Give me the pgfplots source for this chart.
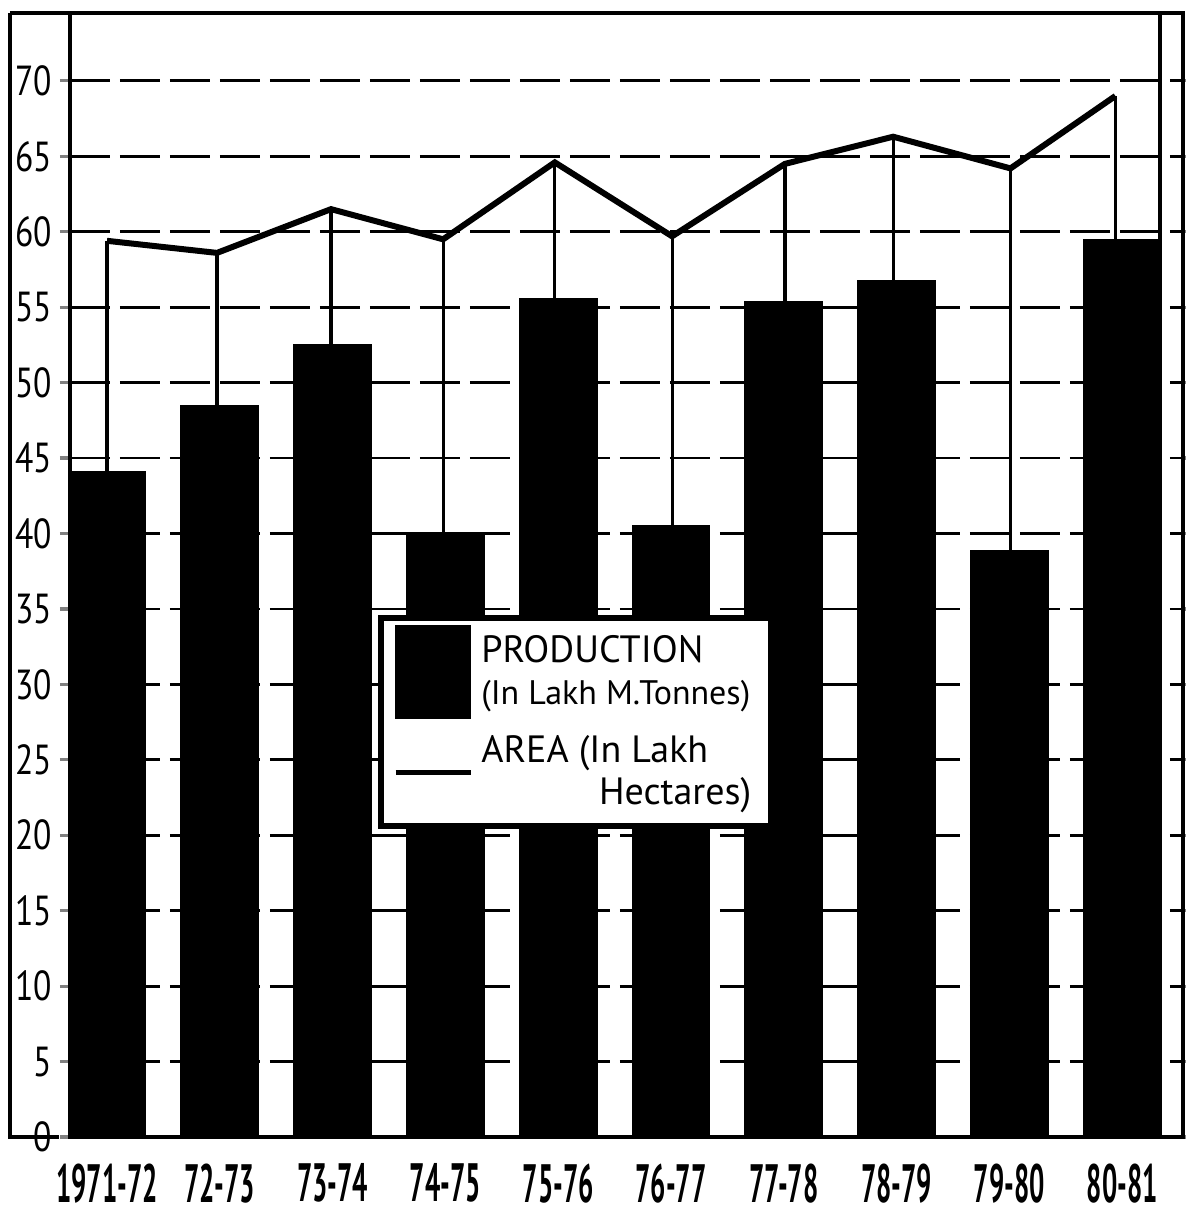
\documentclass[border=0pt]{standalone}
\usepackage{fontspec}
\setmainfont{PT Sans}
\usepackage{pgfplots}
\pgfplotsset{compat=1.18}
\usepackage{pgfplotstable}
\usepackage{graphicx}

\pgfplotstableread{
x prod xa area drop
0 44.1 0.000 59.4 15.3
1 48.5 0.975 58.6 10.1
2 52.5 1.986 61.5 9.0
3 40.1 2.980 59.5 19.4
4 55.6 3.970 64.6 9.0
5 40.5 5.010 59.7 19.2
6 55.4 6.010 64.5 9.1
7 56.8 6.970 66.3 9.5
8 38.9 8.010 64.2 25.3
9 59.5 8.940 69.0 9.5
}\data

\newcommand{\xl}[1]{\scalebox{0.5}[1]{\bfseries #1}}

\begin{document}
\begin{tikzpicture}
\begin{axis}[
  scale only axis,
  clip=false,
  width=278.25pt, height=281pt,
  xmin=-0.328, xmax=9.539,
  ymin=0, ymax=74.5,
  axis line style={line width=0.9pt},
  xtick={0,...,9},
  xticklabels={\xl{1971-72},\xl{72-73},\xl{73-74},\xl{74-75},\xl{75-76},\xl{76-77},\xl{77-78},\xl{78-79},\xl{79-80},\xl{80-81}},
  xtick style={draw=none},
  xticklabel style={font=\fontsize{13.5}{13.5}\selectfont, inner sep=0pt, yshift=-4pt},
  ytick={0,5,...,70},
  tick align=outside,
  major tick length=2.5pt,
  ytick style={line width=0.8pt},
  yticklabel={\scalebox{0.8}[1]{\pgfmathprintnumber{\tick}}},
  yticklabel style={font=\fontsize{10.5}{10.5}\selectfont, xshift=1.5pt},
  /pgf/number format/assume math mode=true,
  ymajorgrids,
  grid style={line width=0.7pt, black, dash pattern=on 10pt off 2.5pt},
  legend style={at={(axis cs:2.4,34.6)}, anchor=north west, draw=black,
    line width=1.5pt, fill=white, inner xsep=3pt, inner ysep=2pt,
    row sep=2pt, font=\fontsize{9.5}{10.5}\selectfont,
    cells={align=left}},
  legend cell align=left,
]
\addplot[ybar, bar width=0.69, fill=black, draw=black, line width=0pt,
  legend image code/.code={\fill[black] (0pt,-11.5pt) rectangle (18.75pt,11.75pt);}]
  table[x=x, y=prod] {\data};
\addlegendentry{PRODUCTION\\{\fontsize{8.5}{10}\selectfont(In Lakh M.Tonnes)}}
\addplot[black, line width=1.5pt, mark=none,
  error bars/.cd, y dir=minus, y explicit, error mark=none,
  error bar style={line width=0.8pt, black},
  /pgfplots/legend image code/.code={\draw[line width=1.4pt, black] (0pt,0pt) -- (18.75pt,0pt);}]
  table[x=xa, y=area, y error=drop] {\data};
\addlegendentry{AREA (In Lakh\\\hspace*{3.1em}Hectares)}
\draw[line width=0.9pt] (axis cs:9.337,0) -- (axis cs:9.337,74.5);
\draw[line width=0.9pt] ([xshift=-15pt]rel axis cs:0,1) -- (rel axis cs:0,1);
\draw[line width=0.9pt] ([xshift=-15pt]rel axis cs:0,1) -- ([xshift=-15pt]rel axis cs:0,0) -- ++(3pt,0);
\coordinate (sw) at (rel axis cs:0,0);
\coordinate (ne) at (rel axis cs:1,1);
\end{axis}
\pgfresetboundingbox
\path ([xshift=-17.5pt,yshift=-19.5pt]sw) rectangle ([xshift=0.6pt,yshift=3.25pt]ne);
\end{tikzpicture}
\end{document}
